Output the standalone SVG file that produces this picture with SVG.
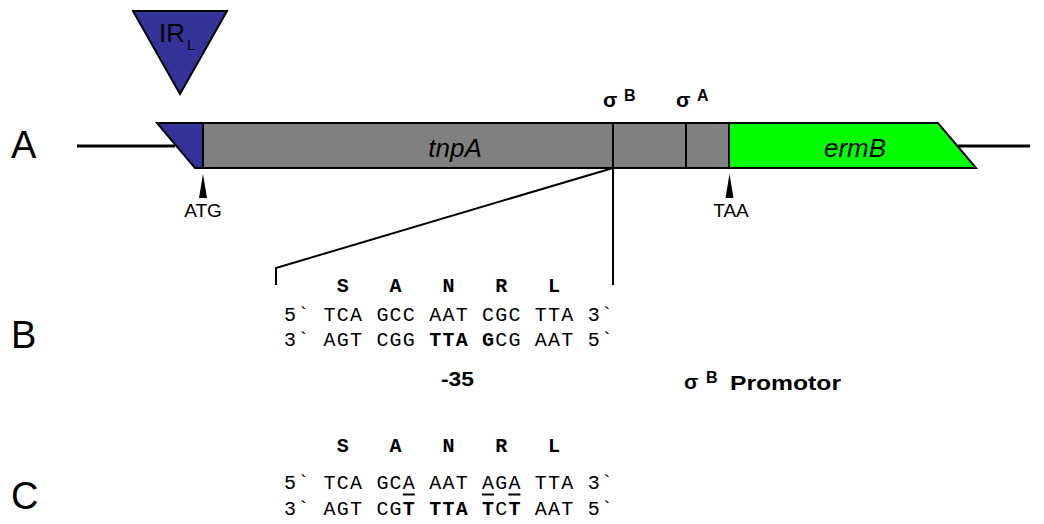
<svg xmlns="http://www.w3.org/2000/svg" width="1044" height="524" viewBox="0 0 1044 524">
<style>
.lbl{font-family:"Liberation Sans",Arial,sans-serif;font-size:38px;fill:#000}
.sans{font-family:"Liberation Sans",Arial,sans-serif;fill:#000}
.mono{font-family:"Liberation Mono","Courier New",monospace;font-size:20px;letter-spacing:1.2px;fill:#000}
.b{font-weight:bold}
.ln{stroke:#000;stroke-width:2;fill:none}
.thick{stroke:#000;stroke-width:3;fill:none}
.ul{stroke:#000;stroke-width:2}
</style>
<rect width="1044" height="524" fill="#fff"/>

<!-- panel labels -->
<text class="lbl" x="11" y="158">A</text>
<text class="lbl" x="11" y="348">B</text>
<text class="lbl" x="11" y="509">C</text>

<!-- connectors -->
<g id="connectors">
  <line class="thick" x1="77" y1="146" x2="175" y2="146"/>
  <line class="thick" x1="958" y1="146" x2="1030" y2="146"/>
  <polyline class="ln" points="613,168 276,268 276,285"/>
  <line class="ln" x1="613" y1="168" x2="613" y2="285"/>
</g>

<!-- IR_L -->
<g id="irl">
  <polygon points="133,11 227,11 180,94" fill="#333399" stroke="#000" stroke-width="2"/>
  <text class="sans" x="159" y="42" font-size="26">IR</text>
  <text class="sans" x="187" y="50" font-size="15">L</text>
</g>

<!-- IR blue segment -->
<g id="ir-seg">
  <polygon points="157,123 203,123 203,168 195,168" fill="#333399" stroke="#000" stroke-width="2"/>
</g>

<!-- tnpA -->
<g id="tnpA">
  <rect x="203" y="123" width="526" height="45" fill="#808080" stroke="#000" stroke-width="2"/>
  <line class="ln" x1="613" y1="123" x2="613" y2="168"/>
  <line class="ln" x1="686" y1="123" x2="686" y2="168"/>
  <text class="sans" x="455" y="157" font-size="26" font-style="italic" text-anchor="middle">tnpA</text>
</g>

<!-- ermB -->
<g id="ermB">
  <polygon points="729,123 938,123 976,168 729,168" fill="#00ff00" stroke="#000" stroke-width="2"/>
  <text class="sans" x="855" y="157" font-size="26" font-style="italic" text-anchor="middle">ermB</text>
</g>

<!-- sigma labels -->
<g id="sigmaB">
  <text class="sans b" x="603" y="107" font-size="21">σ</text>
  <text class="sans b" x="624" y="101" font-size="16">B</text>
</g>
<g id="sigmaA">
  <text class="sans b" x="676" y="107" font-size="21">σ</text>
  <text class="sans b" x="697" y="101" font-size="16">A</text>
</g>

<!-- start/stop markers -->
<g id="atg">
  <polygon points="203,174 199,198 207,198" fill="#000"/>
  <text class="sans" x="203" y="217" font-size="19" text-anchor="middle">ATG</text>
</g>
<g id="taa">
  <polygon points="729.5,174 725.5,198 733.5,198" fill="#000"/>
  <text class="sans" x="731" y="217" font-size="19" text-anchor="middle">TAA</text>
</g>

<!-- Panel B sequence -->
<g id="seqB">
  <text class="mono b" x="336.8" y="292" xml:space="preserve">S   A   N   R   L</text>
  <text class="mono" x="284" y="321" xml:space="preserve">5` TCA GCC AAT CGC TTA 3`</text>
  <text class="mono" x="284" y="346" xml:space="preserve">3` AGT CGG <tspan class="b">TTA G</tspan>CG AAT 5`</text>
  <text class="sans b" x="441" y="386" font-size="21" textLength="33" lengthAdjust="spacingAndGlyphs">-35</text>
</g>

<g id="promotor">
  <text class="sans b" x="684" y="389" font-size="21">σ</text>
  <text class="sans b" x="706" y="383" font-size="16">B</text>
  <text class="sans b" x="730" y="390" font-size="21" textLength="111" lengthAdjust="spacingAndGlyphs">Promotor</text>
</g>

<!-- Panel C sequence -->
<g id="seqC">
  <text class="mono b" x="336.8" y="452" xml:space="preserve">S   A   N   R   L</text>
  <text class="mono" x="284" y="489" xml:space="preserve">5` TCA GCA AAT AGA TTA 3`</text>
  <line class="ul" x1="402.8" y1="494.5" x2="414.8" y2="494.5"/>
  <line class="ul" x1="482" y1="494.5" x2="494" y2="494.5"/>
  <line class="ul" x1="508.4" y1="494.5" x2="520.4" y2="494.5"/>
  <text class="mono" x="284" y="515" xml:space="preserve">3` AGT CG<tspan class="b">T</tspan> <tspan class="b">TTA</tspan> <tspan class="b">T</tspan>C<tspan class="b">T</tspan> AAT 5`</text>
</g>
</svg>
